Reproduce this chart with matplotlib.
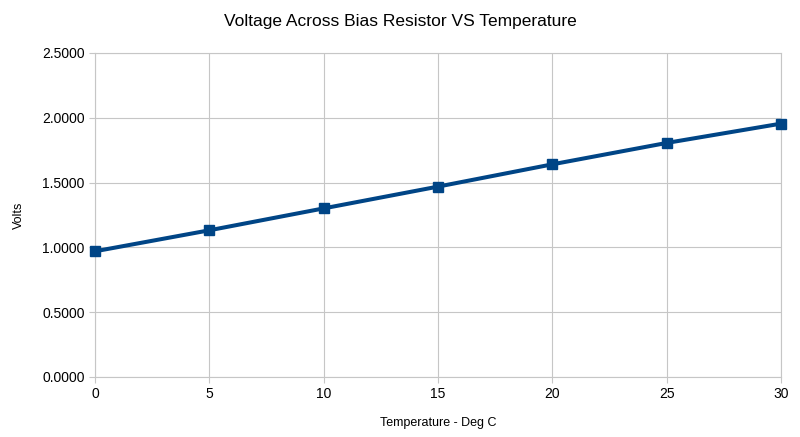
import numpy as np
import matplotlib.pyplot as plt
from matplotlib.ticker import FormatStrFormatter

# data
temps = [0, 5, 10, 15, 20, 25, 30]
volts = [0.970, 1.132, 1.301, 1.469, 1.641, 1.806, 1.955]

x_ticks = [0, 5, 10, 15, 20, 25, 30]
y_ticks = [0.0, 0.5, 1.0, 1.5, 2.0, 2.5]

plt.rcParams['font.family'] = ['Liberation Sans', 'DejaVu Sans']

fig = plt.figure(figsize=(8, 4.37), dpi=100)
ax = fig.add_axes([95 / 800, 1 - 377 / 437, (781 - 95) / 800, (377 - 53) / 437])

ax.plot(temps, volts, color="#004586", linewidth=2.9, marker="s",
        markersize=7, zorder=3, clip_on=False)

ax.set_xlim(0, 30)
ax.set_ylim(0, 2.5)
ax.set_xticks(x_ticks)
ax.set_yticks(y_ticks)
ax.yaxis.set_major_formatter(FormatStrFormatter("%.4f"))

ax.grid(True, color="#c6c6c6", linewidth=0.8)
ax.set_axisbelow(True)
for s in ax.spines.values():
    s.set_color("#c6c6c6")
    s.set_linewidth(0.8)
ax.tick_params(colors="#c6c6c6", labelcolor="black", labelsize=10, length=4, width=0.8)

ax.set_xlabel("Temperature - Deg C", fontsize=9, labelpad=11)
ax.set_ylabel("Volts", fontsize=9, labelpad=12)
fig.suptitle("Voltage Across Bias Resistor VS Temperature", fontsize=12.5, y=0.968)

plt.savefig("out.png", dpi=100)
